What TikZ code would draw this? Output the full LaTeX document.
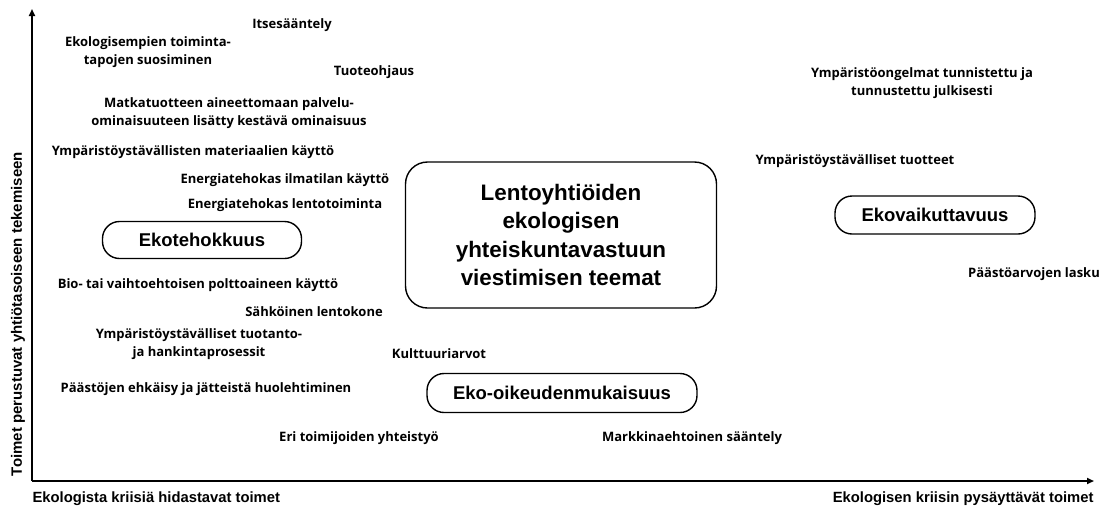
\documentclass[tikz,border=0pt]{standalone}
\usepackage{fontspec}
\setmainfont{Liberation Sans}
\newfontfamily\opensans{Open Sans}
\usetikzlibrary{arrows.meta}
\begin{document}
\begin{tikzpicture}[x=1pt, y=-1pt, line width=1pt,
    lbl/.style={font=\opensans\bfseries\fontsize{13}{18.5}\selectfont, align=center, inner sep=0pt},
    theme/.style={draw, line width=1.4pt, rounded corners=17pt, inner sep=0pt, font=\bfseries\fontsize{18.5}{22}\selectfont},
    axislbl/.style={font=\bfseries\fontsize{14.8}{17}\selectfont, inner sep=0pt},
    axis/.style={line width=1.8pt, -{Triangle[length=7pt, width=6pt]}}]
  \useasboundingbox (0,0) rectangle (1102,509);
  % axes
  \coordinate (origin) at (32,481);
  \coordinate (ytip) at (32,9);
  \coordinate (xtip) at (1094,481);
  \draw[axis] (origin) -- (ytip);
  \draw[axis] (origin) -- (xtip);
  \node[axislbl, anchor=west] (slow) at (32,499) {Ekologista kriisiä hidastavat toimet};
  \node[axislbl, anchor=east] (stop) at (1094,499) {Ekologisen kriisin pysäyttävät toimet};
  \node[axislbl, font=\bfseries\fontsize{15}{17}\selectfont, rotate=90] (firm) at (18,314) {Toimet perustuvat yhtiötasoiseen tekemiseen};
  % theme boxes
  \node[theme, rounded corners=22pt, minimum width=311pt, minimum height=146pt,
        align=center, font=\bfseries\fontsize{22.4}{28.5}\selectfont] (main) at (561,235)
        {Lentoyhtiöiden\\ekologisen\\yhteiskuntavastuun\\viestimisen teemat};
  \node[theme, minimum width=199pt, minimum height=37pt] (tehok) at (202,240) {Ekotehokkuus};
  \node[theme, minimum width=200pt, minimum height=38pt] (vaikut) at (935,215) {Ekovaikuttavuus};
  \node[theme, minimum width=270pt, minimum height=39pt] (oikeus) at (562,393) {Eko-oikeudenmukaisuus};
  % left side labels
  \node[lbl] (itse) at (292,25) {Itsesääntely};
  \node[lbl] (suosi) at (148,52) {Ekologisempien toiminta-\\tapojen suosiminen};
  \node[lbl] (tuote) at (374,72) {Tuoteohjaus};
  \node[lbl] (matka) at (229,113) {Matkatuotteen aineettomaan palvelu-\\ominaisuuteen lisätty kestävä ominaisuus};
  \node[lbl] (mater) at (193,152) {Ympäristöystävällisten materiaalien käyttö};
  \node[lbl] (ilma) at (285,180) {Energiatehokas ilmatilan käyttö};
  \node[lbl] (lento) at (285,205) {Energiatehokas lentotoiminta};
  \node[lbl] (bio) at (198,285) {Bio- tai vaihtoehtoisen polttoaineen käyttö};
  \node[lbl] (sahko) at (314,312) {Sähköinen lentokone};
  \node[lbl] (hanki) at (199,344) {Ympäristöystävälliset tuotanto-\\ja hankintaprosessit};
  \node[lbl] (paasto) at (206,389) {Päästöjen ehkäisy ja jätteistä huolehtiminen};
  \node[lbl] (kult) at (439,354) {Kulttuuriarvot};
  \node[lbl] (yhteis) at (359,438) {Eri toimijoiden yhteistyö};
  \node[lbl] (markk) at (692,438) {Markkinaehtoinen sääntely};
  % right side labels
  \node[lbl] (ongel) at (922,83) {Ympäristöongelmat tunnistettu ja\\tunnustettu julkisesti};
  \node[lbl] (tuott) at (855,161) {Ympäristöystävälliset tuotteet};
  \node[lbl] (arvot) at (1034,274) {Päästöarvojen lasku};
\end{tikzpicture}
\end{document}
